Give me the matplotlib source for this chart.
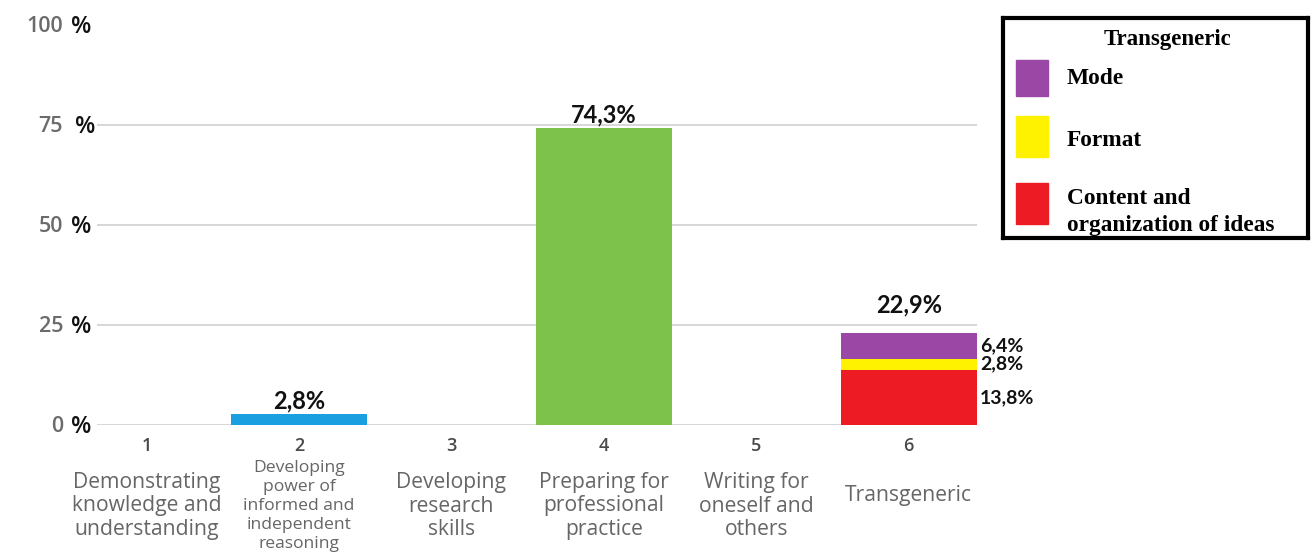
import matplotlib
matplotlib.use("Agg")
import matplotlib.pyplot as plt
from matplotlib import transforms
from matplotlib.patches import Rectangle

# data
categories = ["1", "2", "3", "4", "5", "6"]
descriptions = [
    "Demonstrating\nknowledge and\nunderstanding",
    "Developing\npower of\ninformed and\nindependent\nreasoning",
    "Developing\nresearch\nskills",
    "Preparing for\nprofessional\npractice",
    "Writing for\noneself and\nothers",
    "Transgeneric",
]
single_values = [0, 2.8, 0, 74.3, 0, 0]
single_colors = ["#1a9fe0", "#1a9fe0", "#1a9fe0", "#7dc24b", "#1a9fe0", "#1a9fe0"]

stack_names = ["Content and\norganization of ideas", "Format", "Mode"]
stack_values = [13.8, 2.8, 6.4]
stack_colors = ["#ed1c24", "#fff200", "#9b47a5"]
stack_total = 22.9

y_ticks = [0, 25, 50, 75, 100]
grid_ticks = [0, 25, 50, 75]


def pct(v):
    return ("%.1f" % v).replace(".", ",") + "%"


W, H = 1314, 558
fig = plt.figure(figsize=(W / 100, H / 100), dpi=100)
ax = fig.add_axes([97 / W, 1 - 425 / H, 879.6 / W, 400 / H])

x = list(range(1, len(categories) + 1))
bar_w = 0.892
label_font = dict(fontweight="bold", family="Lato", color="#111111")

# single bars
for xi, v, c in zip(x, single_values, single_colors):
    if v > 0:
        ax.bar(xi, v, width=bar_w, color=c, zorder=3)
        ax.annotate(pct(v), (xi, v), xytext=(0, 1), textcoords="offset points",
                    ha="center", va="bottom", fontsize=17, zorder=4, **label_font)

# stacked bar for category 6
bottom = 0
for v, c in zip(stack_values, stack_colors):
    ax.bar(x[-1], v, width=bar_w, bottom=bottom, color=c, zorder=3)
    ax.annotate(pct(v), (x[-1] + bar_w / 2, bottom + v / 2), xytext=(2.5, 0),
                textcoords="offset points", ha="left", va="center",
                fontsize=14, **label_font)
    bottom += v
ax.annotate(pct(stack_total), (x[-1], bottom), xytext=(0, 12),
            textcoords="offset points", ha="center", va="bottom",
            fontsize=17, **label_font)

for g in grid_ticks:
    ax.axhline(g, color="#cdcdcd", lw=1.1, zorder=1)

ax.set_xlim(0.6745, 6.446)
ax.set_ylim(0, 100)
ax.set_xticks([])
ax.set_yticks([])
for s in ax.spines.values():
    s.set_visible(False)

# y tick labels: grey number + black percent sign
tr = transforms.blended_transform_factory(fig.transFigure, ax.transData)
for t in y_ticks:
    ax.text(63 / W, t - 1.75, str(t), transform=tr, ha="right", va="baseline",
            fontsize=15.5, fontweight="semibold", family="Open Sans",
            color="#6b6b6b")
    ax.text((75 if t == 75 else 71) / W, t - 1.9, "%", transform=tr,
            ha="left", va="baseline", fontsize=17, fontweight="semibold",
            family="Open Sans", color="#111111")

# category numbers and descriptions
trx = transforms.blended_transform_factory(ax.transData, fig.transFigure)
for xi, cat, desc in zip(x, categories, descriptions):
    ax.text(xi, 1 - 446 / H, cat, transform=trx, ha="center", va="center",
            fontsize=13, fontweight="semibold", family="Open Sans",
            color="#4a4a4a")
    n = desc.count("\n") + 1
    fs = 12.6 if n > 4 else 15.2
    ls = 1.26 if n > 4 else 1.17
    yc = 495 if n == 1 else 506
    ax.text(xi, 1 - yc / H, desc, transform=trx, ha="center", va="center",
            fontsize=fs, family="Open Sans", color="#666666",
            linespacing=ls, multialignment="center")

# legend box drawn by hand
lg = fig.add_axes([1003 / W, 1 - 238 / H, 305 / W, 220 / H])
lg.set_xlim(0, 305)
lg.set_ylim(220, 0)
lg.set_xticks([])
lg.set_yticks([])
for s in lg.spines.values():
    s.set_linewidth(3)
    s.set_color("black")
lg.text(164, 21, "Transgeneric", ha="center", va="center", fontsize=16.5,
        fontweight="bold", family="Liberation Serif")
legend_rows = [("Mode", 42, 78, 61), ("Format", 98, 139, 123),
               ("Content and\norganization of ideas", 165, 206, 194)]
name_color = dict(zip(stack_names, stack_colors))
for name, y0, y1, ty in legend_rows:
    lg.add_patch(Rectangle((13, y0), 32, y1 - y0, color=name_color[name]))
    lg.text(64, ty, name, ha="left", va="center", fontsize=16.8,
            fontweight="bold", family="Liberation Serif", linespacing=1.4)

fig.savefig("out.png", dpi=100)
